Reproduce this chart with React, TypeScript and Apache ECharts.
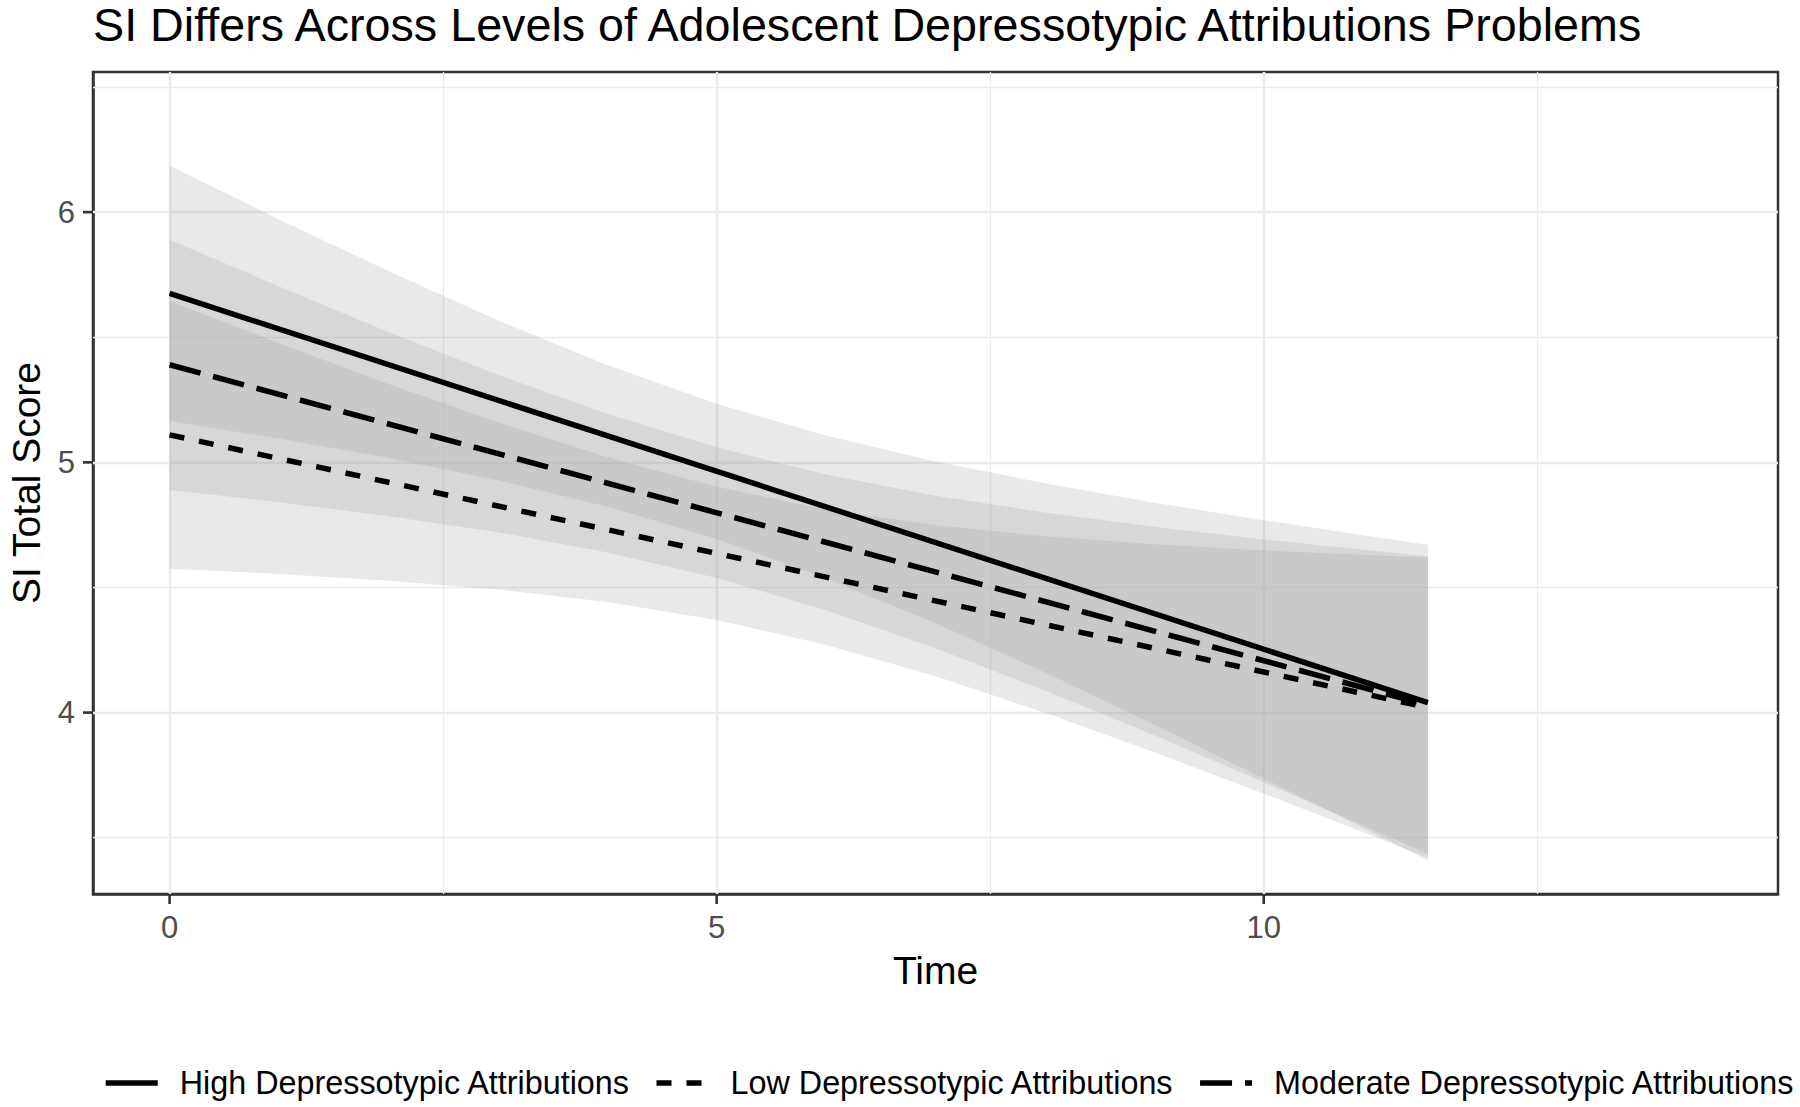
import React, { useEffect, useRef } from 'react';
import * as echarts from 'echarts';

const FONT = '"Liberation Sans", Arial, Helvetica, sans-serif';

const titleText = 'SI Differs Across Levels of Adolescent Depressotypic Attributions Problems';
const xName = 'Time';
const yName = 'SI Total Score';
const groupNames = [
  'High Depressotypic Attributions',
  'Low Depressotypic Attributions',
  'Moderate Depressotypic Attributions',
];

// fitted lines (straight)
const lineTimes = [0, 11.5];
const highLine = [5.675, 4.04];
const lowLine = [5.11, 4.02];
const modLine = [5.39, 4.03];

// confidence ribbons (lower / upper edge read at each time)
const bandTimes = [0, 1, 2, 3, 4, 5, 6, 7, 8, 9, 10, 11, 11.5];
const highLower = [5.165, 5.095, 5.017, 4.928, 4.823, 4.694, 4.537, 4.357, 4.16, 3.951, 3.737, 3.519, 3.409];
const highUpper = [6.185, 5.971, 5.765, 5.568, 5.389, 5.234, 5.107, 5.003, 4.917, 4.839, 4.769, 4.703, 4.671];
const lowLower = [4.575, 4.554, 4.527, 4.492, 4.442, 4.37, 4.27, 4.145, 3.999, 3.841, 3.676, 3.507, 3.42];
const lowUpper = [5.645, 5.476, 5.313, 5.16, 5.02, 4.903, 4.812, 4.749, 4.705, 4.673, 4.648, 4.629, 4.62];
const modLower = [4.89, 4.841, 4.785, 4.721, 4.64, 4.538, 4.409, 4.257, 4.088, 3.909, 3.722, 3.531, 3.435];
const modUpper = [5.89, 5.703, 5.521, 5.35, 5.194, 5.06, 4.951, 4.867, 4.8, 4.743, 4.692, 4.647, 4.625];

// axes
const xRange = [-0.7, 14.7];
const yRange = [3.275, 6.56];
const xTicks = [0, 5, 10];
const xMinor = [2.5, 7.5, 12.5];
const yTicks = [4, 5, 6];
const yMinor = [3.5, 4.5, 5.5, 6.5];

const RIBBON = 'rgba(153,153,153,0.21)';
const LW = 5.5;
const BORDER = '#333333';
const TICK_LEN = 10;
const TICK_W = 2.6;

function ribbon(lower: number[], upper: number[]) {
  return {
    type: 'custom',
    data: bandTimes.map((t, i) => [t, lower[i], upper[i]]),
    encode: { x: 0, y: [1, 2] },
    clip: true,
    silent: true,
    z: 2,
    renderItem: (params: any, api: any) => {
      if (params.dataIndex !== 0) return null;
      const pts: number[][] = [];
      for (let i = 0; i < bandTimes.length; i++) pts.push(api.coord([bandTimes[i], upper[i]]));
      for (let i = bandTimes.length - 1; i >= 0; i--) pts.push(api.coord([bandTimes[i], lower[i]]));
      return { type: 'polygon', shape: { points: pts }, style: { fill: RIBBON, stroke: 'none' } };
    },
  };
}

// tick marks outside the panel, placed through the axes' scales
function tickSeries(values: number[], isX: boolean) {
  return {
    type: 'custom',
    data: values.map((v) => (isX ? [v, yRange[0]] : [xRange[0], v])),
    encode: { x: 0, y: 1 },
    clip: false,
    silent: true,
    z: 6,
    renderItem: (params: any, api: any) => {
      const p = api.coord([api.value(0), api.value(1)]);
      const shape = isX
        ? { x: p[0] - TICK_W / 2, y: p[1], width: TICK_W, height: TICK_LEN }
        : { x: p[0] - TICK_LEN, y: p[1] - TICK_W / 2, width: TICK_LEN, height: TICK_W };
      return { type: 'rect', shape, style: { fill: BORDER, stroke: 'none' } };
    },
  };
}

const gridLines = [
  ...xTicks.map((v) => ({ xAxis: v, lineStyle: { width: 2.4 } })),
  ...xMinor.map((v) => ({ xAxis: v, lineStyle: { width: 1.3 } })),
  ...yTicks.map((v) => ({ yAxis: v, lineStyle: { width: 2.4 } })),
  ...yMinor.map((v) => ({ yAxis: v, lineStyle: { width: 1.3 } })),
];

function fitLine(name: string, values: number[], dash: any, extra: any = {}) {
  return {
    type: 'line',
    name,
    data: lineTimes.map((t, i) => [t, values[i]]),
    symbol: 'none',
    lineStyle: { color: '#000000', width: LW, type: dash, cap: 'butt' },
    itemStyle: { color: '#000000' },
    z: 3,
    ...extra,
  };
}

function axisCommon(ticks: number[]) {
  return {
    axisLine: { show: true, onZero: false, lineStyle: { color: BORDER, width: 2.5 } },
    axisTick: { show: false },
    axisLabel: {
      show: true,
      customValues: ticks,
      margin: 18,
      fontSize: 31,
      color: '#4d4d4d',
      fontFamily: FONT,
      formatter: (v: number) => String(v),
    },
    splitLine: { show: false },
    minorSplitLine: { show: false },
    nameLocation: 'middle',
    nameMoveOverlap: false,
    nameTextStyle: { fontSize: 39, color: '#000000', fontFamily: FONT },
  };
}

export default function App() {
  const ref = useRef<HTMLDivElement>(null);
  useEffect(() => {
    const chart = echarts.init(ref.current as HTMLDivElement, undefined, { renderer: 'svg' });
    const option: any = {
      animation: false,
      backgroundColor: '#ffffff',
      textStyle: { fontFamily: FONT },
      title: {
        text: titleText,
        left: 93,
        top: 1,
        padding: 0,
        textStyle: { fontSize: 46.7, fontWeight: 'normal', color: '#000000', fontFamily: FONT },
      },
      legend: {
        data: groupNames,
        left: 103,
        top: 1067,
        width: 1790,
        orient: 'horizontal',
        itemWidth: 52,
        itemHeight: 20,
        itemGap: 23,
        selectedMode: false,
        padding: 0,
        lineStyle: { width: LW },
        itemStyle: { opacity: 0, borderWidth: 0 },
        textStyle: { fontSize: 32.35, color: '#000000', fontFamily: FONT, padding: [0, 0, 0, 17] },
      },
      grid: {
        left: 93,
        top: 72,
        right: 22,
        bottom: 213,
        show: true,
        borderColor: BORDER,
        borderWidth: 2.5,
        backgroundColor: 'transparent',
        containLabel: false,
        outerBoundsMode: 'none',
      },
      xAxis: {
        type: 'value',
        min: xRange[0],
        max: xRange[1],
        name: xName,
        nameGap: 57,
        ...axisCommon(xTicks),
      },
      yAxis: {
        type: 'value',
        min: yRange[0],
        max: yRange[1],
        name: yName,
        nameGap: 47,
        ...axisCommon(yTicks),
      },
      series: [
        fitLine(groupNames[0], highLine, 'solid', {
          markLine: {
            silent: true,
            symbol: ['none', 'none'],
            label: { show: false },
            emphasis: { disabled: true },
            lineStyle: { color: '#ebebeb', type: 'solid' },
            data: gridLines,
            z: 1,
            animation: false,
          },
        }),
        fitLine(groupNames[1], lowLine, [15, 15]),
        fitLine(groupNames[2], modLine, [32, 13]),
        ribbon(highLower, highUpper),
        ribbon(modLower, modUpper),
        ribbon(lowLower, lowUpper),
        tickSeries(xTicks, true),
        tickSeries(yTicks, false),
      ],
    };
    chart.setOption(option);
    return () => chart.dispose();
  }, []);
  return (
    <div
      ref={ref}
      style={{ position: 'fixed', left: 0, top: 0, width: 1800, height: 1107, background: '#ffffff' }}
    />
  );
}
